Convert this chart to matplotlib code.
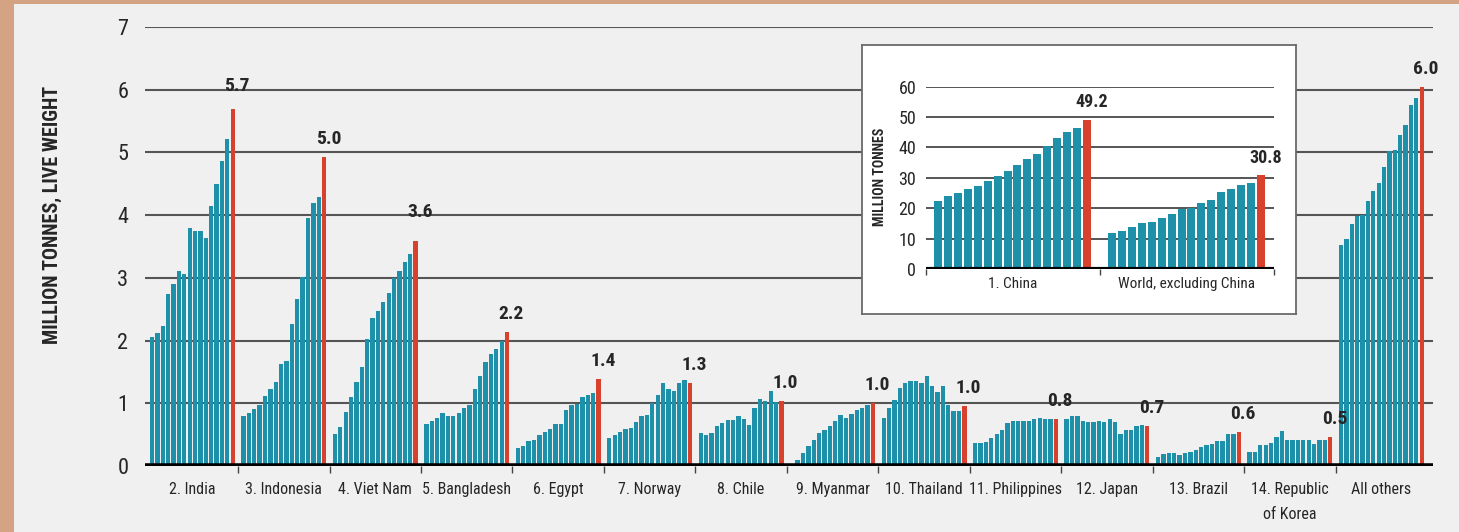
import matplotlib
matplotlib.use("Agg")
import matplotlib.pyplot as plt
from matplotlib import font_manager
from matplotlib.transforms import blended_transform_factory
import numpy as np

# ---------------- data ----------------
years = list(range(2001, 2017))

categories = ["2. India", "3. Indonesia", "4. Viet Nam", "5. Bangladesh", "6. Egypt",
              "7. Norway", "8. Chile", "9. Myanmar", "10. Thailand", "11. Philippines",
              "12. Japan", "13. Brazil", "14. Republic\nof Korea", "All others"]

india       = [2.05, 2.12, 2.24, 2.74, 2.90, 3.11, 3.06, 3.79, 3.74, 3.74, 3.63, 4.14, 4.49, 4.86, 5.21, 5.70]
indonesia   = [0.79, 0.84, 0.91, 0.98, 1.11, 1.23, 1.34, 1.62, 1.67, 2.26, 2.66, 3.02, 3.95, 4.20, 4.29, 4.92]
viet_nam    = [0.51, 0.62, 0.86, 1.10, 1.34, 1.58, 2.02, 2.36, 2.47, 2.61, 2.76, 3.00, 3.11, 3.25, 3.38, 3.58]
bangladesh  = [0.67, 0.71, 0.77, 0.84, 0.79, 0.79, 0.85, 0.92, 0.98, 1.23, 1.44, 1.66, 1.78, 1.87, 1.99, 2.14]
egypt       = [0.29, 0.32, 0.40, 0.41, 0.50, 0.54, 0.59, 0.67, 0.67, 0.90, 0.98, 0.99, 1.10, 1.14, 1.16, 1.38]
norway      = [0.45, 0.49, 0.54, 0.59, 0.61, 0.70, 0.80, 0.82, 1.00, 1.14, 1.33, 1.22, 1.20, 1.33, 1.37, 1.33]
chile       = [0.53, 0.50, 0.53, 0.64, 0.69, 0.73, 0.73, 0.79, 0.75, 0.66, 0.92, 1.07, 1.03, 1.20, 1.02, 1.03]
myanmar     = [0.03, 0.10, 0.21, 0.32, 0.41, 0.52, 0.58, 0.63, 0.71, 0.82, 0.77, 0.83, 0.89, 0.93, 0.98, 1.00]
thailand    = [0.77, 0.92, 1.06, 1.25, 1.32, 1.36, 1.36, 1.33, 1.43, 1.28, 1.18, 1.28, 0.97, 0.88, 0.88, 0.96]
philippines = [0.37, 0.37, 0.38, 0.45, 0.51, 0.58, 0.69, 0.71, 0.71, 0.71, 0.72, 0.75, 0.77, 0.75, 0.75, 0.75]
japan       = [0.75, 0.79, 0.79, 0.72, 0.70, 0.70, 0.71, 0.70, 0.75, 0.70, 0.51, 0.58, 0.57, 0.63, 0.66, 0.64]
brazil      = [0.14, 0.19, 0.21, 0.21, 0.18, 0.21, 0.23, 0.26, 0.31, 0.33, 0.35, 0.40, 0.40, 0.51, 0.51, 0.54]
korea       = [0.23, 0.23, 0.33, 0.33, 0.36, 0.46, 0.56, 0.41, 0.41, 0.41, 0.42, 0.41, 0.35, 0.41, 0.41, 0.46]
all_others  = [3.52, 3.62, 3.86, 3.98, 4.00, 4.23, 4.39, 4.52, 4.76, 5.03, 5.04, 5.28, 5.44, 5.76, 5.87, 6.05]

value_labels = ["5.7", "5.0", "3.6", "2.2", "1.4", "1.3", "1.0", "1.0", "1.0", "0.8",
                "0.7", "0.6", "0.5", "6.0"]

inset_categories = ["1. China", "World, excluding China"]
china          = [22.4, 24.0, 24.9, 26.2, 27.3, 29.0, 30.7, 32.2, 34.1, 36.2, 38.0, 40.5, 43.0, 45.0, 46.5, 49.2]
world_ex_china = [12.0, 12.5, 13.9, 15.0, 15.4, 16.7, 18.0, 19.6, 20.2, 21.8, 22.7, 25.2, 26.2, 27.6, 28.2, 30.8]
inset_value_labels = ["49.2", "30.8"]

main_ticks = [0, 1, 2, 3, 4, 5, 6, 7]
inset_ticks = [0, 10, 20, 30, 40, 50, 60]

series = [india, indonesia, viet_nam, bangladesh, egypt, norway, chile, myanmar,
          thailand, philippines, japan, brazil, korea, all_others]
inset_series = [china, world_ex_china]

# ---------------- style ----------------
def pick(names):
    for n in names:
        try:
            font_manager.findfont(font_manager.FontProperties(family=n),
                                  fallback_to_default=False)
            return n
        except Exception:
            pass
    return "DejaVu Sans"

FONT = pick(["Liberation Sans Narrow", "Roboto Condensed", "Open Sans Condensed",
             "Liberation Sans"])
plt.rcParams["font.family"] = [FONT, "DejaVu Sans"]

TEAL = "#1E90AA"
RED = "#D8412E"
GRID = "#555555"
TXT = "#262626"
BORDER = "#D3A383"
PANEL = "#F0F0F0"

W, H = 1459, 532
fig = plt.figure(figsize=(W / 100, H / 100), dpi=100)
fig.patch.set_facecolor(BORDER)


def rect(l, t, r, b):
    return [l / W, 1 - b / H, (r - l) / W, (b - t) / H]


# light panel
panel = fig.add_axes(rect(14, 4, W, H))
panel.set_facecolor(PANEL)
panel.set_xticks([]); panel.set_yticks([])
for s in panel.spines.values():
    s.set_visible(False)
panel.set_zorder(0)

# ---------------- main chart ----------------
ax = fig.add_axes(rect(145, 27, 1433, 466))
ax.set_zorder(1)
ax.set_facecolor("none")
G = 17
n = len(years)
for g, vals in enumerate(series):
    xs = g * G + np.arange(n)
    cols = [TEAL] * (n - 1) + [RED]
    ax.bar(xs, vals, width=0.8, color=cols, zorder=3, linewidth=0)

ax.set_xlim(-1.3, 238.1)
ax.set_ylim(0, 7)
for v in main_ticks[1:]:
    ax.axhline(v, color=GRID, lw=1.5, zorder=1)
ax.axhline(0, color="black", lw=4.0, zorder=4)

ax.set_yticks(main_ticks)
ax.set_yticklabels([str(t) for t in main_ticks], fontsize=16, color=TXT)
ax.tick_params(axis="y", length=0, pad=12)
ax.set_xticks([g * G - 1 for g in range(1, len(series))])
ax.set_xticklabels([])
ax.tick_params(axis="x", length=5, width=1, color="#444444", direction="out")
for s in ax.spines.values():
    s.set_visible(False)

trans = blended_transform_factory(ax.transData, ax.transAxes)
for g, (cat, vals, lab) in enumerate(zip(categories, series, value_labels)):
    center = g * G + (n - 1) / 2
    ax.text(center, -0.036, cat, transform=trans, ha="center", va="top",
            fontsize=11.5, color=TXT, linespacing=1.85)
    extra = 8 if g == 2 else (3 if g == 0 else 0)
    ax.annotate(lab, (g * G + n - 1, vals[-1]), xytext=(3, 6.5 + extra),
                textcoords="offset points", ha="center", va="bottom",
                fontsize=14, fontweight="bold", color=TXT, zorder=5)

fig.text(52 / W, 1 - 215 / H, "MILLION TONNES, LIVE WEIGHT", rotation=90,
         ha="center", va="center", fontsize=14.5, fontweight="bold", color=TXT)

# ---------------- inset ----------------
box = fig.add_axes(rect(862, 45, 1296, 314))
box.set_zorder(2)
box.set_facecolor("white")
box.set_xticks([]); box.set_yticks([])
for s in box.spines.values():
    s.set_color("#6a6a6a"); s.set_linewidth(1.3)

iax = fig.add_axes(rect(926, 86.7, 1274, 269))
iax.set_zorder(3)
iax.set_facecolor("none")
GI = 17.5
for g, vals in enumerate(inset_series):
    xs = g * GI + np.arange(len(vals))
    cols = [TEAL] * (len(vals) - 1) + [RED]
    iax.bar(xs, vals, width=0.8, color=cols, zorder=3, linewidth=0)
iax.set_xlim(-1.2, 33.8)
iax.set_ylim(0, 60)
for v in inset_ticks[1:]:
    iax.axhline(v, color=GRID, lw=1.4, zorder=1)
iax.axhline(0, color="black", lw=3, zorder=4)
iax.set_yticks(inset_ticks)
iax.set_yticklabels([str(t) for t in inset_ticks], fontsize=13, color=TXT)
iax.tick_params(axis="y", length=0, pad=7)
iax.set_xticks([-1.2, 16.25, 33.8])
iax.set_xticklabels([])
iax.tick_params(axis="x", length=4, width=1, color="#444444")
for s in iax.spines.values():
    s.set_visible(False)
itrans = blended_transform_factory(iax.transData, iax.transAxes)
for g, (cat, vals, lab) in enumerate(zip(inset_categories, inset_series, inset_value_labels)):
    m = len(vals)
    iax.text(g * GI + (m - 1) / 2, -0.045, cat, transform=itrans, ha="center",
             va="top", fontsize=11, color=TXT)
    iax.annotate(lab, (g * GI + m - 1, vals[-1]), xytext=(3, 6),
                 textcoords="offset points", ha="center", va="bottom",
                 fontsize=13, fontweight="bold", color=TXT, zorder=5)
fig.text(880 / W, 1 - 177 / H, "MILLION TONNES", rotation=90, ha="center",
         va="center", fontsize=10, fontweight="bold", color=TXT, zorder=6)

fig.savefig("out.png", dpi=100, facecolor=fig.get_facecolor())
